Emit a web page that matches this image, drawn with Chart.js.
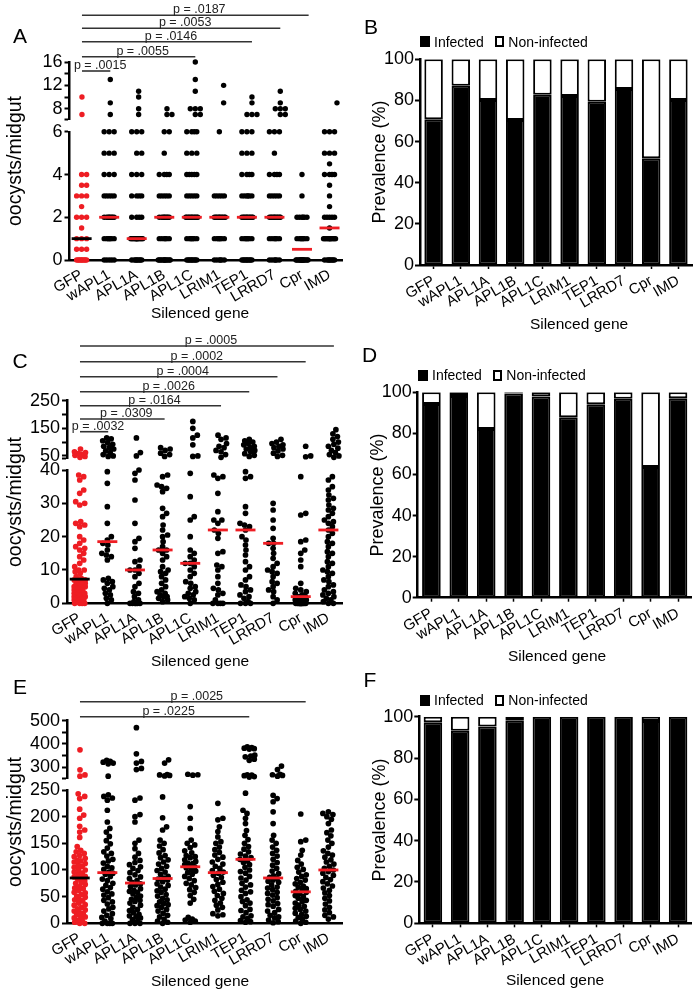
<!DOCTYPE html>
<html>
<head>
<meta charset="utf-8">
<title>Oocyst counts and prevalence after gene silencing</title>
<script src="https://cdn.jsdelivr.net/npm/chart.js@4.4.1/dist/chart.umd.min.js"></script>
<style>
  html, body { margin:0; padding:0; background:#fff; }
  body { position:relative; width:700px; height:994px; overflow:hidden;
         font-family:"Liberation Sans", Arial, Helvetica, sans-serif; color:#000; }
  canvas { position:absolute; }
  .t { position:absolute; white-space:nowrap; line-height:1; transform:translate(-50%,-50%); }
  .r { transform:translate(-50%,-50%) rotate(-90deg); }
  .leg { position:absolute; height:16px; display:flex; align-items:center; font-size:14px; line-height:1; white-space:nowrap; }
  .sq { display:inline-block; width:10px; height:11px; background:#000; }
  .wb { display:inline-block; width:9.5px; height:11px; background:#fff; border:2px solid #000; box-sizing:border-box; margin-left:11px; }
  .lt { margin-left:4px; }
</style>
</head>
<body>
<script>
// ---------------- DATA ----------------
const cats = ['GFP','wAPL1','APL1A','APL1B','APL1C','LRIM1','TEP1','LRRD7','Cpr','IMD'];

// Panel A: oocysts per midgut
const a_GFP   = [0,0,0,0,0,0,0,0,0,0.5,0.5,0.5,1,1,1,1.5,2,2,2,2.5,3,3,3,3.5,3.5,4,4,7,10];
const a_wAPL1 = [0,0,0,0,0,1,1,1,1,1,1,1,2,2,2,2,2,2,2,2,3,3,3,3,3,4,4,4,5,5,5,6,6,6,7,9,13];
const a_APL1A = [0,0,0,0,0,0,0,0,1,1,1,1,1,1,1,1,1,1,1,1,1,2,2,2,2,3,3,3,3,4,4,4,5,5,6,6,6,7,8,10,11];
const a_APL1B = [0,0,0,0,0,0,0,0,0,0,0,0,1,1,1,1,1,1,2,2,2,2,2,2,2,2,3,3,3,3,3,4,4,4,4,5,6,6,7,7,8];
const a_APL1C = [0,0,0,0,0,0,0,0,0,1,1,1,1,1,1,1,2,2,2,2,2,2,2,2,2,2,2,3,3,3,3,3,4,4,4,4,4,5,5,5,6,6,6,6,7,7,8,8,8,11,13,16];
const a_LRIM1 = [0,0,0,0,0,0,1,1,1,1,1,1,1,2,2,2,2,2,2,2,2,2,2,3,3,3,3,3,6,9,12];
const a_TEP1  = [0,0,0,0,0,0,0,0,0,1,1,1,1,1,1,1,2,2,2,2,2,2,2,2,2,2,3,3,3,3,3,3,4,4,4,4,5,5,5,6,6,6,7,7,7,9,10];
const a_LRRD7 = [0,0,0,0,0,0,1,1,1,1,1,1,2,2,2,2,2,2,2,2,2,2,3,3,3,3,3,4,4,4,4,5,6,6,6,7,7,8,8,8,9,11];
const a_Cpr   = [0,0,0,0,0,0,0,0,0,0,0,0,0,0,0,1,1,1,1,1,1,1,2,2,2,2,2,2,3,4];
const a_IMD   = [0,0,0,0,0,0,0,0,1,1,1,1,1,1,1,1,1,1,1,1,1.5,2,2,2,2,2,2.5,3,3.5,4,4,4,4,4.5,5,5,5,6,6,6,9];
const a_pTo   = ['wAPL1','APL1C','TEP1','LRRD7','Cpr'];
const a_pVal  = ['.0015','.0055','.0146','.0053','.0187'];

// Panel C
const c_GFP   = [0,0,0,0,0.5,0.5,1,1,1,1,1.5,2,2,2,2,2.5,3,3,3,3,3.5,4,4,4,4.5,5,5,5,5,5.5,6,6,6,6.5,7,7,7,7.5,8,9,9.5,10,10,11,12,13,14,15,16,16.5,17,18,19,20,23,23.5,24,24.5,29.5,30,30.5,33,34,37,38,38.5,45,48,52,55,58,62,65,75];
const c_wAPL1 = [0,1,1.5,2.5,3,4,4.5,5,6,6.5,7,7.5,13,14,14.5,15,16,17.5,18,19,20,24,29,36,39.5,48,50,55,62,68,75,80,85,92,98,105,112,115];
const c_APL1A = [0,0,0,0,0,0,0.5,1,2,3,3.5,5,6,8,9,10,10,11,12.5,13,16.5,18.5,19.5,24,31,37,39,40,50,62,115];
const c_APL1B = [0.5,1,1.5,2,2,2.5,3,3.5,4,5,6,7,8,9,9.5,10,11,13,14,15,16,16,17,18.5,20,20.5,22,23.5,26,27,28.5,33.5,34.5,35,35.5,38,38.5,48,55,60,70,75,80];
const c_APL1C = [0,1,1.5,2,2.5,3,3.5,4.5,5,6,6.5,8,9,10,11,12,12,13,14,15,16,20,25,26,32,39,48,50,90,115,125,150,175];
const c_LRIM1 = [0,0,0,0,1,2.5,3,4,4.5,6,8,10,11,11.5,15,15.5,19.5,21,22,24,25,25,27.5,33,37.5,38,38.5,45,55,65,70,80,85,95,110,115,125];
const c_TEP1  = [0,0,0,0.5,1.5,2,2.5,3.5,4,5,5.5,7,8,10,11,12.5,14.5,16,17.5,19,20,22,23,23.5,24,27,29,37.5,38,39.5,48,52,58,65,70,75,80,85,90,95,100,105,110];
const c_LRRD7 = [0,1,2,3.5,4,5,6,6.5,8,9,9.5,10,11,12,13.5,15,16.5,18,18,19.5,22.5,25,28,30,48,52,60,68,75,80,85,90,95,100,110];
const c_Cpr   = [0,0,0,0,0,0,0,0,0,0,0,0,0,0.5,1,1,1,1.5,2,2,2,2.5,3,3.5,4,4.5,6,11,13,15,16,18.5,19,26.5,27,38,47,50,85];
const c_IMD   = [0,0,0.5,1,1.5,2,2.5,3,3.5,4,5,5.5,6.5,7,8,9,9.5,10,11,12,12.5,14,15,15.5,17,18,18.5,20,21,22,23,24,24.5,25,26,27,28,28.5,29.5,31,31.5,32.5,34,35,37,38,45,50,55,62,70,78,85,92,100,110,120,130,145];
const c_pTo   = ['wAPL1','APL1B','LRIM1','TEP1','LRRD7','Cpr','IMD'];
const c_pVal  = ['.0032','.0309','.0164','.0026','.0004','.0002','.0005'];

// Panel E
const e_GFP   = [0,0,2,5,6,10,12,13,17,18,20,23,25,27,30,34,35,38,42,44,45,49,51,54,57,58,62,65,66,69,73,75,77,80,83,85,87,88,92,94,96,100,101,105,107,109,112,115,117,118,122,125,127,131,134,137,144,161,171,175,182,197,203,214,234,238,243,262,267,289,375];
const e_wAPL1 = [0,0,0,0,4,9,11,15,18,23,27,30,36,40,43,48,53,55,59,64,67,71,75,80,83,88,92,94,96,101,104,107,113,117,120,126,131,134,141,149,155,163,171,178,190,212,231,235,238,241,262,315,318,322,326,330];
const e_APL1A = [0,0,0,3,7,10,12,14,17,20,24,26,30,34,38,41,43,45,48,51,55,58,60,62,65,69,72,74,77,80,84,87,91,95,99,103,106,110,114,118,124,131,140,150,156,190,200,204,231,235,290,295,318,325,358,470];
const e_APL1B = [0,2,4,8,12,15,19,23,26,30,33,35,37,40,44,47,51,54,58,61,64,68,71,74,78,81,83,85,88,92,96,99,103,107,111,115,119,123,127,132,138,145,150,156,175,181,198,237,263,265,267,269,318,332];
const e_APL1C = [2,4,6,8,11,38,45,52,58,63,67,72,75,80,84,88,92,95,98,101,104,106,108,110,112,113,116,119,123,125,127,132,136,142,147,150,156,178,197,219,266,268,270];
const e_LRIM1 = [14,16,18,25,30,34,38,43,47,52,56,60,64,69,73,77,82,86,90,94,96,99,103,107,111,115,120,124,128,133,138,143,150,153,162,172,181,194,197,225];
const e_TEP1  = [2,3,5,9,12,14,20,24,26,33,38,41,44,50,56,59,62,68,72,75,81,85,88,94,97,100,105,110,114,117,120,123,126,130,134,139,144,150,157,165,174,187,197,206,212,244,258,260,264,266,268,330,335,345,348,352,378,380,382,385,388];
const e_LRRD7 = [1,3,6,10,12,15,20,23,26,32,35,37,42,45,48,53,56,58,63,66,68,72,77,79,81,84,86,89,93,98,103,109,114,120,126,131,137,143,150,156,165,187,209,228,234,240,262,265,268,270,290,305];
const e_Cpr   = [0,2,4,8,11,13,17,19,23,26,28,32,34,38,41,43,47,50,52,56,58,60,63,65,68,70,74,77,81,84,88,91,96,101,105,111,118,128,137,153,156,205];
const e_IMD   = [8,12,15,20,25,30,36,42,47,52,57,62,66,70,74,78,82,86,90,94,97,100,103,107,111,115,119,124,128,131,136,143,150,156,164,170,175,187,195,200,204,206,209];
const e_pTo   = ['TEP1','Cpr'];
const e_pVal  = ['.0225','.0025'];

// Prevalence (%) panels B, D, F
const b_infected    = [70.8, 87.2, 80.2, 70.5, 82.8, 82.2, 79.4, 85.6, 51.9, 80.2];
const b_nonInfected = [29.2, 12.8, 19.8, 29.5, 17.2, 17.8, 20.6, 14.4, 48.1, 19.8];
const d_infected    = [94.3, 98.2, 82.1, 99.4, 97.9, 87.8, 94.2, 96.8, 63.6, 97.1];
const d_nonInfected = [5.7, 1.8, 17.9, 0.6, 2.1, 12.2, 5.8, 3.2, 36.4, 2.9];
const f_infected    = [97.3, 93.2, 95.2, 98.1, 100, 100, 100, 100, 97.9, 100];
const f_nonInfected = [2.7, 6.8, 4.8, 1.9, 0, 0, 0, 0, 2.1, 0];

const prevTicks = [0, 20, 40, 60, 80, 100];

// ---------------- STYLE / SETUP ----------------
const RED = '#ee1d23';
const FONT = '"Liberation Sans", Arial, Helvetica, sans-serif';
Chart.defaults.font.family = FONT;
Chart.defaults.color = '#000';
Chart.defaults.animation = false;
Chart.defaults.events = [];
Chart.defaults.plugins.legend.display = false;
Chart.defaults.plugins.tooltip.enabled = false;

function makeCanvas(left, top, w, h) {
  const c = document.createElement('canvas');
  c.width = w; c.height = h;
  c.style.left = left + 'px'; c.style.top = top + 'px';
  c.style.width = w + 'px'; c.style.height = h + 'px';
  document.body.appendChild(c);
  return c;
}
function addText(txt, cx, cy, size, rot) {
  const d = document.createElement('div');
  d.className = 't' + (rot ? ' r' : '');
  d.textContent = txt;
  d.style.left = cx + 'px'; d.style.top = cy + 'px';
  d.style.fontSize = size + 'px';
  document.body.appendChild(d);
}
function addLegend(x, yc) {
  const d = document.createElement('div');
  d.className = 'leg';
  d.style.left = x + 'px'; d.style.top = (yc - 8) + 'px';
  d.innerHTML = '<span class="sq"></span><span class="lt">Infected</span><span class="wb"></span><span class="lt">Non-infected</span>';
  document.body.appendChild(d);
}
function median(a) {
  const s = a.slice().sort((x, y) => x - y), n = s.length;
  return n % 2 ? s[(n - 1) / 2] : (s[n / 2 - 1] + s[n / 2]) / 2;
}
function makeBracketPlugin(to, pv, rows, canvasTop) {
  return {
    id: 'brackets',
    afterDraw(chart) {
      const ctx = chart.ctx, xs = chart.scales.x;
      ctx.save();
      ctx.font = '12.5px ' + FONT;
      ctx.textAlign = 'center';
      ctx.textBaseline = 'alphabetic';
      to.forEach((name, k) => {
        const x1 = xs.getPixelForValue(0);
        const x2 = xs.getPixelForValue(cats.indexOf(name));
        const y = rows[k] - canvasTop;
        ctx.strokeStyle = '#333'; ctx.lineWidth = 1.6;
        ctx.beginPath(); ctx.moveTo(x1, y); ctx.lineTo(x2, y); ctx.stroke();
        ctx.fillStyle = '#222';
        ctx.fillText('p = ' + pv[k], (x1 + x2) / 2 + 4, y - 2);
      });
      ctx.restore();
    }
  };
}
function yAxis(seg, width) {
  return {
    type: 'linear', min: seg.min, max: seg.max,
    afterBuildTicks: s => { s.ticks = seg.ticks.map(v => ({ value: v })); },
    afterFit: s => { s.width = width; },
    ticks: { font: { size: 18 }, padding: 2, autoSkip: false,
             callback: v => seg.labels.includes(v) ? String(v) : '' },
    grid: { drawOnChartArea: false, drawTicks: true, tickLength: 5, tickWidth: 2, tickColor: '#000' },
    border: { display: true, color: '#000', width: 2.5 }
  };
}
function ptsDataset(color, r) {
  return { data: [], pointRadius: r, pointHoverRadius: r, pointBackgroundColor: color,
           pointBorderColor: color, pointBorderWidth: 0, showLine: false, clip: false };
}
// beeswarm layout in pixel space using the chart's own scales
function swarm(chart, cols, D, MAXH) {
  const xs = chart.scales.x, ys = chart.scales.y;
  const unit = xs.getPixelForValue(1) - xs.getPixelForValue(0);
  const cand = [0];
  for (let s = 0.5; s <= MAXH + 1e-9; s += 0.5) cand.push(s, -s);
  return cols.map((vals, ci) => {
    const placed = [], pts = [];
    vals.slice().sort((a, b) => a - b).forEach(v => {
      const py = ys.getPixelForValue(v);
      let chosen = null, bestD = -1, bestDx = 0;
      for (const dx of cand) {
        let m = Infinity;
        for (const p of placed) {
          const dd = Math.hypot(dx - p.dx, py - p.py);
          if (dd < m) m = dd;
        }
        if (m >= D) { chosen = dx; break; }
        if (m > bestD + 1e-6) { bestD = m; bestDx = dx; }
      }
      if (chosen === null) chosen = bestDx;
      placed.push({ dx: chosen, py });
      pts.push({ x: ci + chosen / unit, y: v });
    });
    return pts;
  });
}

function buildDotPanel(P) {
  const up = P.cols.map(c => c.filter(v => v > P.split));
  const lo = P.cols.map(c => c.filter(v => v <= P.split));
  const meds = P.cols.map(median);

  const cu = makeCanvas(0, P.uTop, 355, P.uH);
  const chU = new Chart(cu, {
    type: 'scatter',
    data: { datasets: [ptsDataset(RED, P.R), ptsDataset('#000', P.R)] },
    options: {
      responsive: false,
      layout: { padding: { top: P.uPadT, bottom: P.uPadB, left: 0, right: P.padR } },
      scales: {
        x: { type: 'linear', display: false, min: P.xmin, max: P.xmax },
        y: yAxis(P.upper, P.yW)
      }
    },
    plugins: [makeBracketPlugin(P.pTo, P.pVal, P.pRows, P.uTop)]
  });

  const cl = makeCanvas(0, P.lTop, 355, P.lH);
  const chL = new Chart(cl, {
    type: 'scatter',
    data: { datasets: [
      { data: meds.map((m, i) => ({ x: i, y: m })), pointStyle: 'line', pointRadius: 10, pointHoverRadius: 10,
        pointBorderWidth: 2.8, pointBorderColor: meds.map((m, i) => i === 0 ? '#000' : RED),
        pointBackgroundColor: 'rgba(0,0,0,0)', showLine: false, clip: false },
      ptsDataset(RED, P.R), ptsDataset('#000', P.R)
    ] },
    options: {
      responsive: false,
      layout: { padding: { top: P.lPadT, bottom: 0, left: 0, right: P.padR } },
      scales: {
        x: { type: 'linear', min: P.xmin, max: P.xmax,
             afterBuildTicks: s => { s.ticks = cats.map((c, i) => ({ value: i })); },
             afterFit: s => { s.height = P.xH; },
             ticks: { autoSkip: false, maxRotation: 30, minRotation: 30, padding: 6, font: { size: 15 },
                      callback: v => cats[v] },
             grid: { display: false, drawTicks: false },
             border: { display: true, color: '#000', width: 2.5 } },
        y: yAxis(P.lower, P.yW)
      }
    }
  });

  const su = swarm(chU, up, P.D, P.MAXH);
  chU.data.datasets[0].data = su[0];
  chU.data.datasets[1].data = su.slice(1).flat();
  chU.update('none');
  const sl = swarm(chL, lo, P.D, P.MAXH);
  chL.data.datasets[1].data = sl[0];
  chL.data.datasets[2].data = sl.slice(1).flat();
  chL.update('none');
}

function buildBarPanel(top, h, inf, non, padT, xH, yW, padR) {
  const c = makeCanvas(345, top, 355, h);
  const common = { borderColor: '#000', borderWidth: 2, borderSkipped: false, barPercentage: 0.68, categoryPercentage: 1 };
  return new Chart(c, {
    type: 'bar',
    data: { labels: cats, datasets: [
      Object.assign({ label: 'Infected', data: inf, backgroundColor: '#000' }, common),
      Object.assign({ label: 'Non-infected', data: non, backgroundColor: '#fff' }, common)
    ] },
    options: {
      responsive: false,
      layout: { padding: { top: padT, bottom: 0, left: 0, right: padR } },
      scales: {
        x: { stacked: true, offset: true, afterFit: s => { s.height = xH; },
             grid: { display: true, offset: false, drawOnChartArea: false, drawTicks: true, tickLength: 4, tickWidth: 1.5, tickColor: '#000' },
             border: { display: true, color: '#000', width: 2.5 },
             ticks: { font: { size: 15 }, maxRotation: 30, minRotation: 30, padding: 3, autoSkip: false } },
        y: { stacked: true, min: 0, max: 100,
             afterBuildTicks: s => { s.ticks = prevTicks.map(v => ({ value: v })); },
             afterFit: s => { s.width = yW; },
             ticks: { font: { size: 18 }, padding: 1 },
             grid: { drawOnChartArea: false, drawTicks: true, tickLength: 5, tickWidth: 2, tickColor: '#000' },
             border: { display: true, color: '#000', width: 2.5 } }
      }
    }
  });
}

// ---------------- BUILD ----------------
buildDotPanel({
  cols: [a_GFP, a_wAPL1, a_APL1A, a_APL1B, a_APL1C, a_LRIM1, a_TEP1, a_LRRD7, a_Cpr, a_IMD],
  split: 6.2, D: 4.6, MAXH: 6, R: 2.7,
  uTop: 0, uH: 132, uPadT: 62, uPadB: 12.7,
  lTop: 119, lH: 216, lPadT: 12.7, xH: 75,
  yW: 69.5, padR: 5, xmin: -0.44, xmax: 9.46,
  upper: { min: 6.2, max: 16, ticks: [6.2, 8, 10, 12, 14, 16], labels: [8, 12, 16] },
  lower: { min: 0, max: 6, ticks: [0, 2, 4, 6], labels: [0, 2, 4, 6] },
  pTo: a_pTo, pVal: a_pVal, pRows: [71, 56.7, 41.7, 28.3, 15.3]
});
buildDotPanel({
  cols: [c_GFP, c_wAPL1, c_APL1A, c_APL1B, c_APL1C, c_LRIM1, c_TEP1, c_LRRD7, c_Cpr, c_IMD],
  split: 40, D: 5, MAXH: 5.5, R: 2.85,
  uTop: 330, uH: 141, uPadT: 70.7, uPadB: 12.7,
  lTop: 457, lH: 218, lPadT: 13, xH: 71.7,
  yW: 67, padR: 7, xmin: -0.46, xmax: 9.5,
  upper: { min: 41.7, max: 250, ticks: [41.7, 50, 100, 150, 200, 250], labels: [50, 150, 250] },
  lower: { min: 0, max: 40, ticks: [0, 10, 20, 30, 40], labels: [0, 10, 20, 30, 40] },
  pTo: c_pTo, pVal: c_pVal, pRows: [431.7, 419, 405.7, 391.7, 376.7, 361.7, 346]
});
buildDotPanel({
  cols: [e_GFP, e_wAPL1, e_APL1A, e_APL1B, e_APL1C, e_LRIM1, e_TEP1, e_LRRD7, e_Cpr, e_IMD],
  split: 250, D: 5, MAXH: 5.5, R: 2.85,
  uTop: 680, uH: 111, uPadT: 40.7, uPadB: 13,
  lTop: 777, lH: 217, lPadT: 13, xH: 70.7,
  yW: 67, padR: 7, xmin: -0.46, xmax: 9.5,
  upper: { min: 254, max: 500, ticks: [254, 300, 350, 400, 450, 500], labels: [300, 400, 500] },
  lower: { min: 0, max: 250, ticks: [0, 50, 100, 150, 200, 250], labels: [0, 50, 100, 150, 200, 250] },
  pTo: e_pTo, pVal: e_pVal, pRows: [716.7, 701.7]
});

buildBarPanel(0, 335, b_infected, b_nonInfected, 59.3, 70, 75, 8);
buildBarPanel(335, 335, d_infected, d_nonInfected, 57.3, 72.3, 72.7, 8.3);
buildBarPanel(665, 329, f_infected, f_nonInfected, 51.7, 70.7, 74.3, 8.3);

// ---------------- TEXT ----------------
addText('A', 20, 35, 21);  addText('B', 371, 26, 21);
addText('C', 20, 360, 21); addText('D', 369.5, 354, 21);
addText('E', 20, 686, 21); addText('F', 370, 679, 21);

addText('oocysts/midgut', 15, 161, 19.5, true);
addText('oocysts/midgut', 15, 502, 19.5, true);
addText('oocysts/midgut', 15, 822, 19.5, true);
addText('Prevalence (%)', 379, 162, 18, true);
addText('Prevalence (%)', 377, 495, 18, true);
addText('Prevalence (%)', 378.5, 820, 18, true);

addText('Silenced gene', 200, 313, 15.5);
addText('Silenced gene', 579, 323.5, 15.5);
addText('Silenced gene', 200, 661, 15.5);
addText('Silenced gene', 557, 656, 15.5);
addText('Silenced gene', 200, 981, 15.5);
addText('Silenced gene', 555, 980, 15.5);

addLegend(420, 41.7);
addLegend(418, 375);
addLegend(420, 700);
</script>
</body>
</html>
